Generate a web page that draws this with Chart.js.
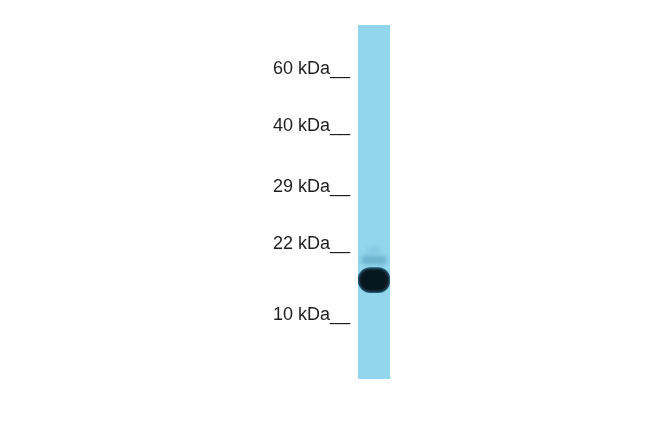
<!DOCTYPE html>
<html>
<head>
<meta charset="utf-8">
<script src="https://cdn.jsdelivr.net/npm/chart.js@4.4.0/dist/chart.umd.min.js"></script>
<style>
  html, body { margin: 0; padding: 0; background: #ffffff; }
  #wrap { width: 650px; height: 433px; }
</style>
</head>
<body>
<div id="wrap"><canvas id="blot" width="650" height="433"></canvas></div>
<script>
// marker ladder, migration measured top (0) to bottom (100) of the lane
const markerLabels = ['60 kDa', '40 kDa', '29 kDa', '22 kDa', '10 kDa'];
const markerPositions = [12.5, 28.4, 45.8, 61.8, 82.0];

const lanes = ['Lane 1'];
const laneRange = [[0, 100]];

// detected bands [top, bottom] in migration units
const mainBand = [[68.5, 75.6]];
const faintBand = [[65.2, 67.6]];
const faintBandUpper = [[62.8, 64.2]];

// soft edges on the bands
const bandBlur = {
  id: 'bandBlur',
  beforeDatasetDraw(chart, args) {
    const ctx = chart.ctx;
    ctx.save();
    if (args.index === 1 || args.index === 2) {
      ctx.filter = 'blur(2px)';
    } else if (args.index === 3) {
      ctx.filter = 'blur(1.3px)';
      ctx.shadowColor = 'rgba(20,70,100,0.8)';
      ctx.shadowBlur = 5;
    }
  },
  afterDatasetDraw(chart) {
    chart.ctx.restore();
  }
};

new Chart(document.getElementById('blot'), {
  type: 'bar',
  data: {
    labels: lanes,
    datasets: [
      {
        label: 'lane',
        data: laneRange,
        backgroundColor: '#92d6ec',
        barPercentage: 1,
        categoryPercentage: 1,
        order: 4
      },
      {
        label: 'faint upper',
        data: faintBandUpper,
        backgroundColor: 'rgba(110,175,205,0.45)',
        borderRadius: 5,
        borderSkipped: false,
        barPercentage: 0.4,
        categoryPercentage: 1,
        order: 3
      },
      {
        label: 'faint',
        data: faintBand,
        backgroundColor: 'rgba(60,130,170,0.42)',
        borderRadius: 8,
        borderSkipped: false,
        barPercentage: 0.8,
        categoryPercentage: 1,
        order: 2
      },
      {
        label: 'band',
        data: mainBand,
        backgroundColor: '#06161e',
        borderColor: '#1a4a60',
        borderWidth: 1.5,
        borderRadius: { topLeft: 16, topRight: 12, bottomLeft: 16, bottomRight: 12 },
        borderSkipped: false,
        barPercentage: 1,
        categoryPercentage: 1,
        order: 1
      }
    ]
  },
  options: {
    responsive: false,
    animation: false,
    datasets: { bar: { grouped: false } },
    layout: { padding: { left: 0, right: 260, top: 25, bottom: 54 } },
    plugins: {
      legend: { display: false },
      tooltip: { enabled: false }
    },
    scales: {
      x: { display: false },
      y: {
        min: 0,
        max: 100,
        reverse: true,
        afterFit(scale) { scale.width = 358; },
        afterBuildTicks(scale) {
          scale.ticks = markerPositions.map(v => ({ value: v }));
        },
        grid: { display: false, drawTicks: false },
        border: { display: false },
        ticks: {
          padding: 8,
          color: '#1e1e1e',
          font: { family: 'Liberation Sans, Arial, sans-serif', size: 18 },
          callback: (value, index) => markerLabels[index] + '__'
        }
      }
    }
  },
  plugins: [bandBlur]
});
</script>
</body>
</html>
